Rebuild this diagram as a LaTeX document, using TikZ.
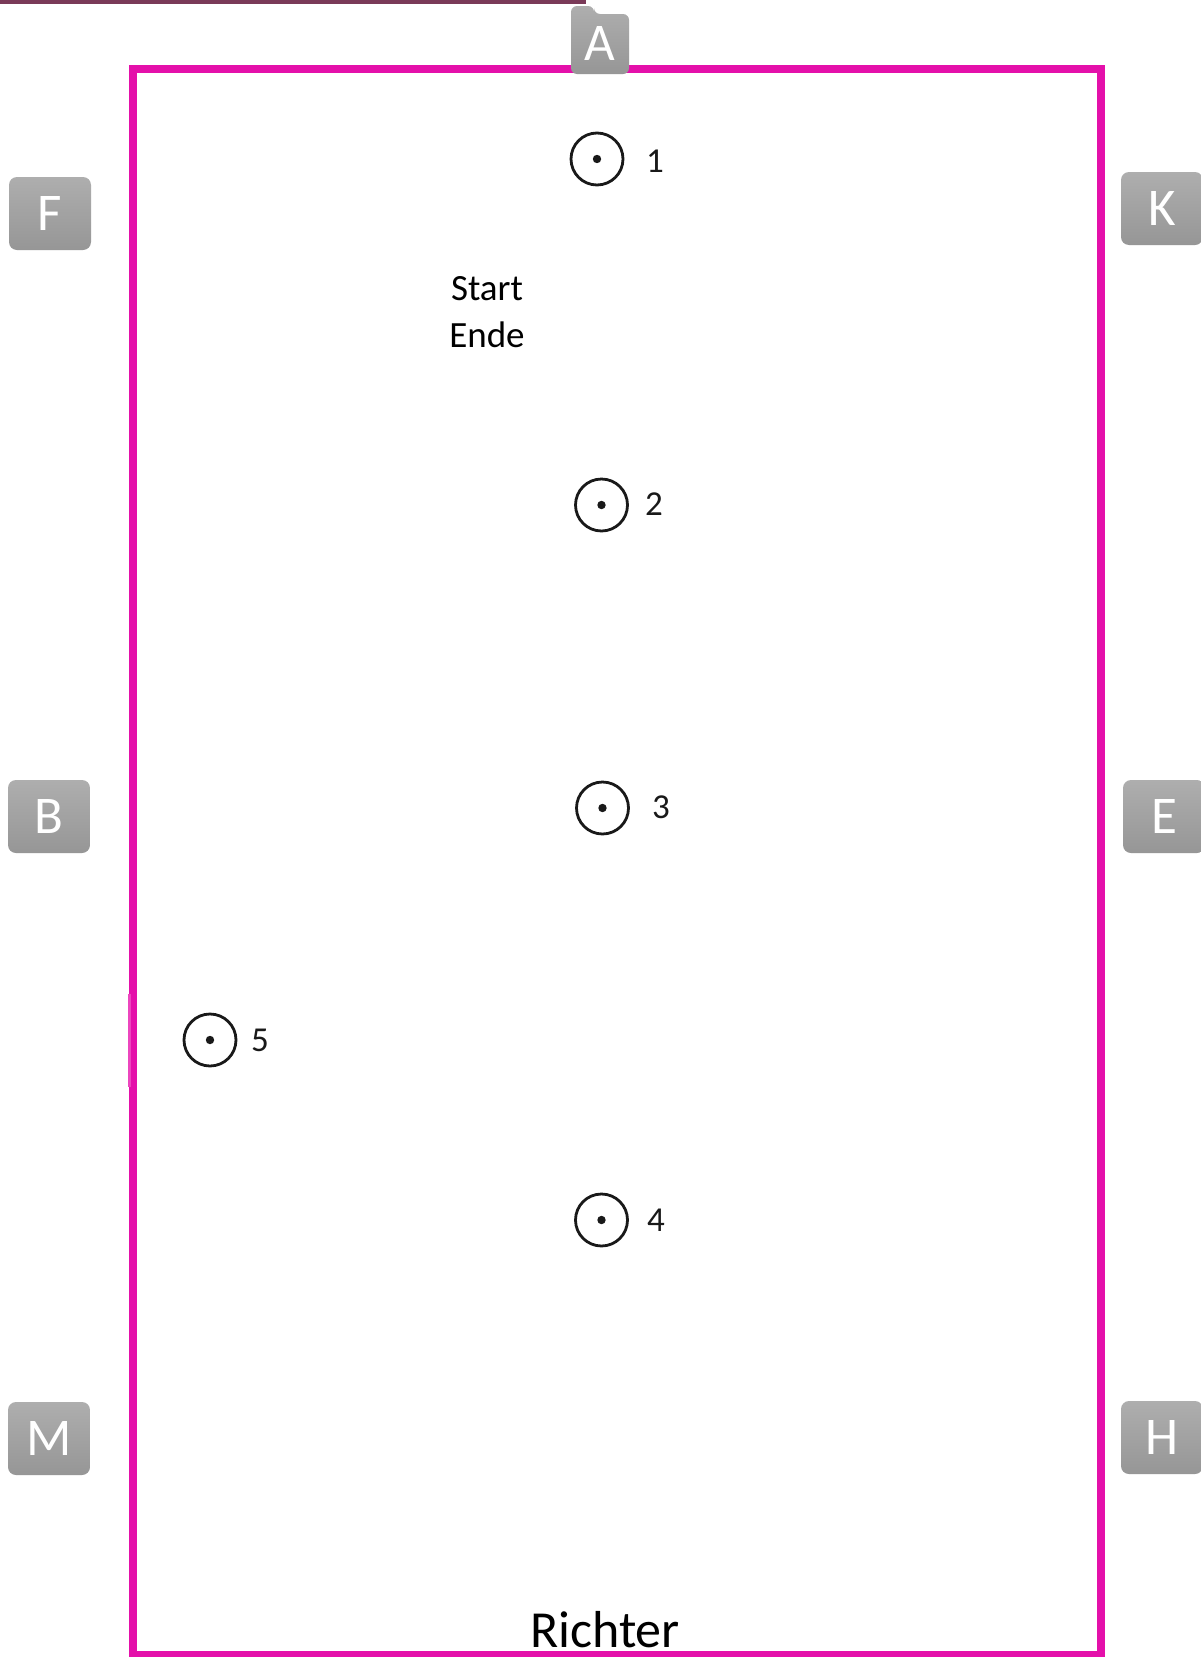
\documentclass[tikz,border=0pt]{standalone}
\usepackage{fontspec}
\setmainfont{Carlito}
\definecolor{arena}{RGB}{228,16,170}
\definecolor{arenalight}{RGB}{236,70,190}
\definecolor{topline}{RGB}{122,58,88}
\definecolor{boxtop}{RGB}{174,174,174}
\definecolor{boxbot}{RGB}{150,150,150}
\definecolor{ink}{RGB}{25,25,25}
\tikzset{
  letterbox/.style={rounded corners=8pt, top color=boxtop, bottom color=boxbot,
    draw=none, text=white, font=\fontsize{53}{53}\selectfont,
    minimum width=82pt, minimum height=73pt, inner sep=0pt},
  cone/.style={circle, draw=ink, line width=2.8pt, minimum size=52pt, inner sep=0pt},
  conelabel/.style={text=ink, font=\fontsize{35}{35}\selectfont, inner sep=0pt},
}
\begin{document}
\begin{tikzpicture}[x=1pt,y=-1pt]
\useasboundingbox (0,0) rectangle (1201,1657);
\fill[white] (0,0) rectangle (1201,1657);
% top line
\draw[topline, line width=4pt] (0,1.5) -- (586,1.5);
% arena
\draw[arena, line width=8pt] (133,69) rectangle (1101,1655);
\fill[arenalight] (127.5,994) rectangle (131,1087);
% A box
\shade[top color=boxtop, bottom color=boxbot, rounded corners=6pt]
  (571,6) -- (594,6) -- (594,14) -- (629,14) -- (629,74) -- (571,74) -- cycle;
\node[text=white, font=\fontsize{53}{53}\selectfont, inner sep=0pt] (A) at (600,43) {A};
% side letters
\node[letterbox] (F) at (50,213.5) {F};
\node[letterbox] (B) at (49,816.5) {B};
\node[letterbox] (M) at (49,1438.5) {M};
\node[letterbox] (K) at (1162,208.5) {K};
\node[letterbox] (E) at (1164,816.5) {E};
\node[letterbox] (H) at (1162,1437.5) {H};
% cones
\foreach \n/\x/\y in {c1/597/159, c2/601.5/505, c3/602.5/808, c4/601.5/1220, c5/210/1040}{
  \node[cone] (\n) at (\x,\y) {};
  \fill[ink] (\n.center) circle (4.2pt);
}
\node[conelabel] (l1) at (655,161) {1};
\node[conelabel] (l2) at (654,504) {2};
\node[conelabel] (l3) at (661,807) {3};
\node[conelabel] (l4) at (656,1220) {4};
\node[conelabel] (l5) at (260,1040) {5};
% texts
\node[text=black, font=\fontsize{37}{47}\selectfont, align=center, inner sep=0pt] (start) at (487,312) {Start\\Ende};
\node[text=black, font=\fontsize{52}{52}\selectfont, inner sep=0pt] (richter) at (605,1630) {Richter};
\end{tikzpicture}
\end{document}
